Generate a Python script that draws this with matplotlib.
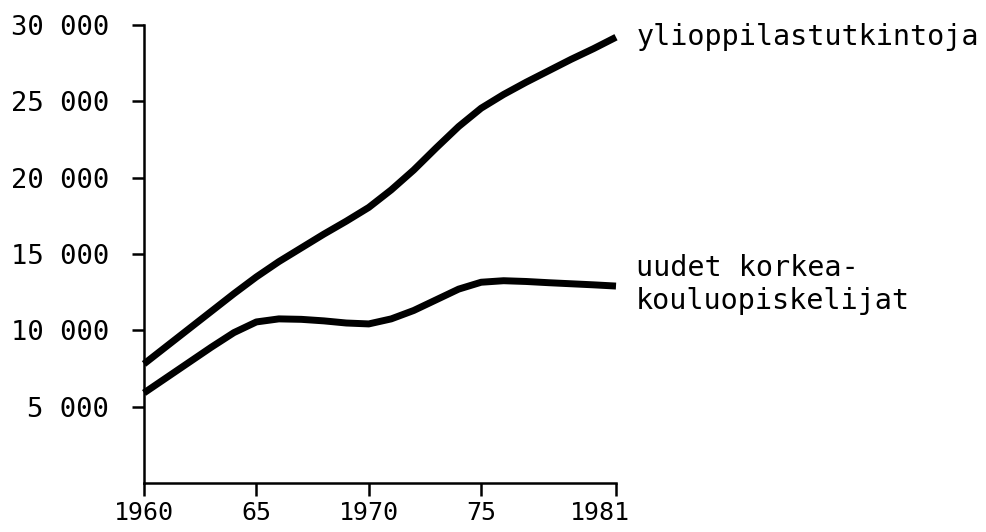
import matplotlib
matplotlib.use("Agg")
import matplotlib.pyplot as plt
from matplotlib.transforms import ScaledTranslation

years = list(range(1960, 1982))
ylioppilas = [7800, 8950, 10100, 11250, 12400, 13500, 14500, 15400, 16300, 17150,
              18050, 19200, 20500, 21950, 23350, 24550, 25450, 26250, 27000, 27750,
              28450, 29200]
korkeakoulu = [5900, 6900, 7900, 8900, 9850, 10550, 10750, 10720, 10620, 10480,
               10420, 10750, 11300, 12000, 12700, 13150, 13250, 13200, 13120, 13050,
               12980, 12900]
ytick_vals = [5000, 10000, 15000, 20000, 25000, 30000]
ytick_labels = ["5 000", "10 000", "15 000", "20 000", "25 000", "30 000"]
xtick_vals = [1960, 1965, 1970, 1975, 1981]
xtick_labels = ["1960", "65", "1970", "75", "1981"]
label_upper = "ylioppilastutkintoja"
label_lower = "uudet korkea-\nkouluopiskelijat"

font = "DejaVu Sans Mono"
fig = plt.figure(figsize=(9.86, 5.32), dpi=100)
ax = fig.add_axes([144/986, 1-483/532, (616-144)/986, (483-25)/532])

for series in (ylioppilas, korkeakoulu):
    ax.plot(years, series, color="black", lw=5.0, solid_capstyle="butt",
            solid_joinstyle="round", clip_on=False)

ax.set_xlim(1960, 1981)
ax.set_ylim(0, 30000)
for s in ("top", "right"):
    ax.spines[s].set_visible(False)
for s in ("left", "bottom"):
    ax.spines[s].set_linewidth(1.8)

ax.set_yticks(ytick_vals)
ax.set_yticklabels(ytick_labels, fontfamily=font, fontsize=19.5)
ax.set_xticks(xtick_vals)
ax.set_xticklabels(xtick_labels, fontfamily=font, fontsize=18)
ax.tick_params(axis="y", direction="out", length=9, width=1.8, pad=16)
ax.tick_params(axis="x", direction="out", length=9, width=1.8, pad=4)
last = ax.get_xticklabels()[-1]
last.set_transform(last.get_transform() + ScaledTranslation(-0.16, 0, fig.dpi_scale_trans))

ax.text(1981.9, ylioppilas[-1], label_upper, fontfamily=font, fontsize=20.5,
        va="center", ha="left", clip_on=False)
ax.text(1981.9, korkeakoulu[-1] + 100, label_lower, fontfamily=font, fontsize=20.5,
        va="center", ha="left", linespacing=1.2, clip_on=False)

fig.savefig("out.png", dpi=100, facecolor="white")
